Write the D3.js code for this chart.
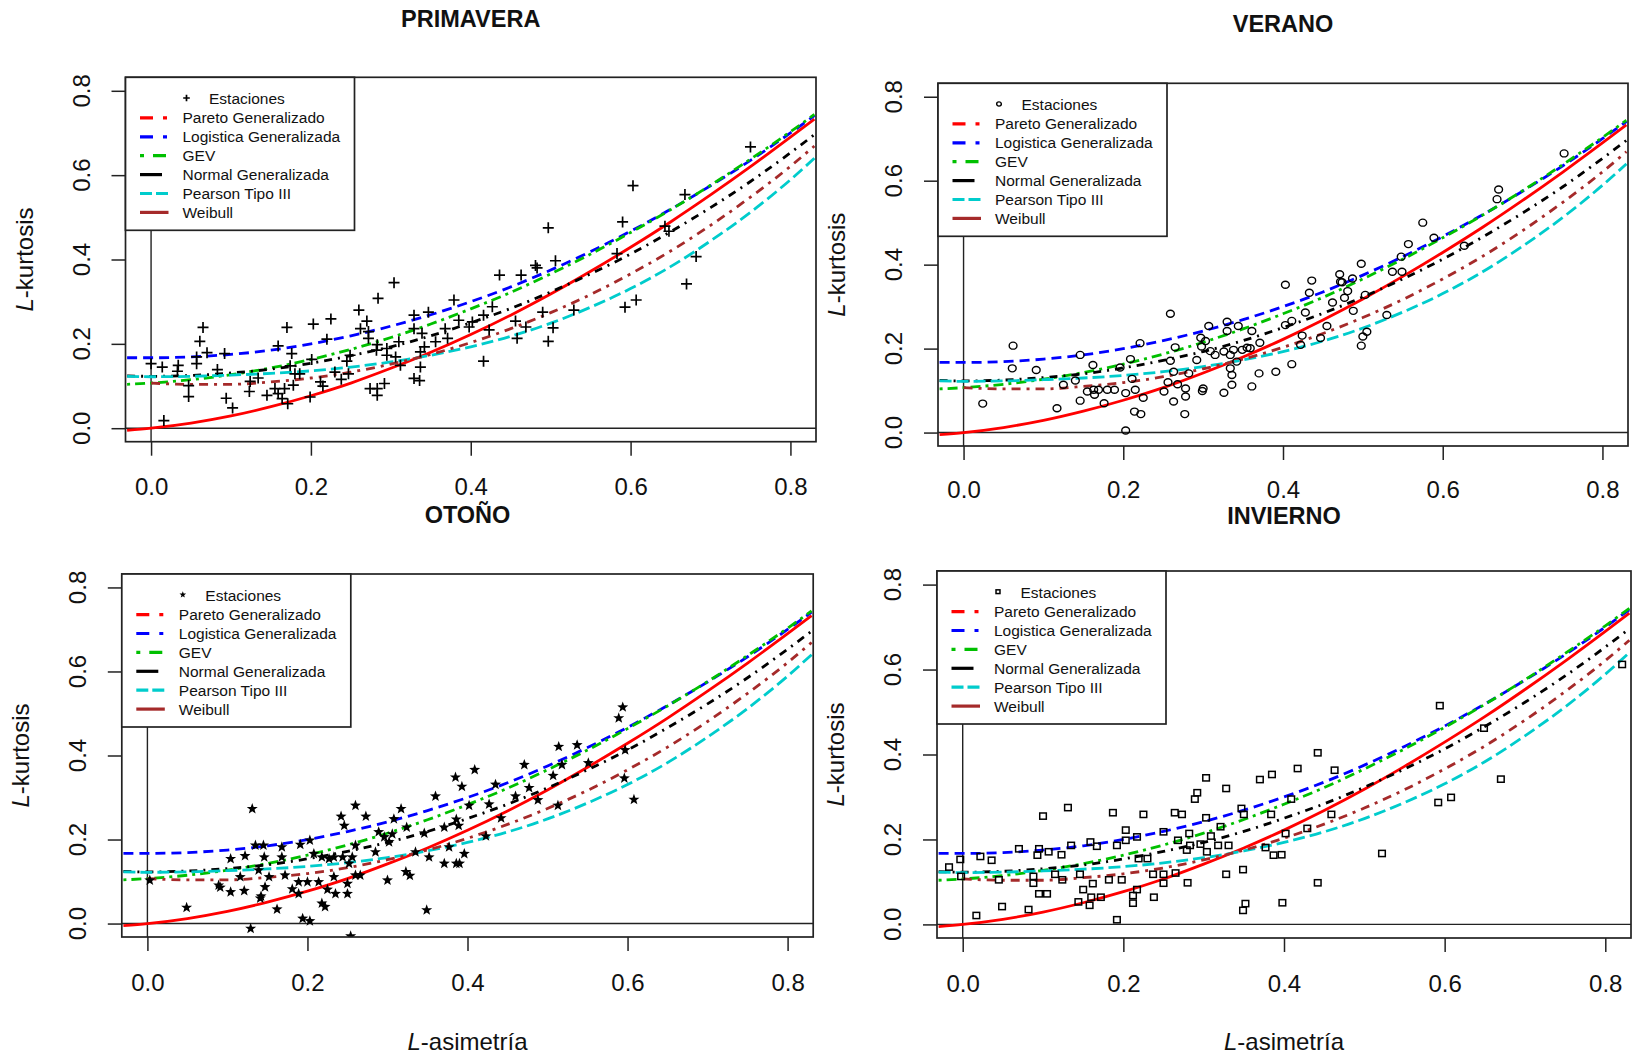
<!DOCTYPE html>
<html><head><meta charset="utf-8">
<script src="https://cdn.jsdelivr.net/npm/d3@7"></script>
<style>
body{margin:0;background:#fff}
svg{display:block}
text{font-family:"Liberation Sans",Arial,Helvetica,sans-serif;fill:#111}
</style>
</head><body>
<svg id="chart" width="1632" height="1054"></svg>
<script>
// ---------- DATA ----------
const seasonTitles = ["PRIMAVERA", "VERANO", "OTOÑO", "INVIERNO"];
const tickValues = [0, 0.2, 0.4, 0.6, 0.8];
const tickLabels = ["0.0", "0.2", "0.4", "0.6", "0.8"];
const legendLabels = ["Estaciones", "Pareto Generalizado", "Logistica Generalizada", "GEV",
  "Normal Generalizada", "Pearson Tipo III", "Weibull"];

// theoretical curves (L-asimetría grid -> L-kurtosis)
const tau3Grid      = [-0.03, 0, 0.05, 0.10, 0.15, 0.20, 0.25, 0.30, 0.35, 0.40, 0.45, 0.50, 0.55, 0.60, 0.65, 0.70, 0.75, 0.80, 0.83];
const tau4Pareto    = [-0.005, 0, 0.012, 0.029, 0.051, 0.077, 0.107, 0.142, 0.180, 0.222, 0.268, 0.318, 0.372, 0.429, 0.489, 0.553, 0.620, 0.690, 0.733];
const tau4Logistica = [0.167, 0.167, 0.169, 0.175, 0.185, 0.200, 0.219, 0.242, 0.269, 0.300, 0.335, 0.375, 0.419, 0.467, 0.519, 0.575, 0.635, 0.700, 0.741];
const tau4GEV       = [0.104, 0.107, 0.115, 0.127, 0.143, 0.163, 0.187, 0.215, 0.247, 0.283, 0.322, 0.366, 0.413, 0.464, 0.518, 0.576, 0.638, 0.703, 0.744];
const tau4Normal    = [0.124, 0.123, 0.125, 0.131, 0.140, 0.154, 0.172, 0.193, 0.219, 0.250, 0.284, 0.323, 0.366, 0.413, 0.466, 0.523, 0.585, 0.653, 0.696];
const tau4Pearson   = [0.123, 0.122, 0.123, 0.126, 0.130, 0.136, 0.145, 0.157, 0.173, 0.193, 0.218, 0.249, 0.287, 0.331, 0.383, 0.444, 0.512, 0.589, 0.640];
const tau4Weibull   = [null, 0.107, 0.104, 0.104, 0.110, 0.119, 0.133, 0.152, 0.175, 0.203, 0.236, 0.274, 0.317, 0.366, 0.420, 0.481, 0.548, 0.621, 0.669];

// stations [L-asimetría, L-kurtosis]
const primavera = [[0.497,0.475],[0.506,0.397],[0.481,0.386],[0.483,0.380],[0.436,0.363],[0.463,0.363],[0.304,0.345],[0.284,0.308],[0.379,0.304],[0.260,0.280],[0.427,0.288],[0.329,0.268],[0.347,0.275],[0.270,0.254],[0.203,0.247],[0.225,0.259],[0.170,0.239],[0.065,0.239],[0.061,0.206],[0.070,0.179],[0.057,0.169],[0.057,0.153],[0.092,0.177],[0.000,0.153],[0.014,0.145],[0.034,0.149],[0.033,0.135],[0.047,0.101],[0.047,0.075],[0.083,0.139],[0.016,0.018],[0.094,0.071],[0.102,0.048],[0.159,0.195],[0.176,0.177],[0.174,0.148],[0.220,0.211],[0.201,0.163],[0.249,0.173],[0.245,0.159],[0.262,0.236],[0.272,0.229],[0.272,0.213],[0.283,0.198],[0.282,0.185],[0.295,0.189],[0.295,0.173],[0.306,0.169],[0.310,0.205],[0.329,0.236],[0.339,0.225],[0.342,0.193],[0.337,0.181],[0.337,0.145],[0.329,0.118],[0.336,0.113],[0.356,0.205],[0.371,0.213],[0.368,0.236],[0.385,0.256],[0.402,0.252],[0.398,0.240],[0.416,0.268],[0.423,0.233],[0.416,0.159],[0.456,0.254],[0.458,0.213],[0.469,0.240],[0.490,0.275],[0.503,0.238],[0.497,0.206],[0.124,0.111],[0.123,0.087],[0.134,0.119],[0.145,0.078],[0.155,0.094],[0.159,0.082],[0.167,0.094],[0.164,0.070],[0.171,0.058],[0.178,0.102],[0.180,0.129],[0.186,0.129],[0.199,0.074],[0.212,0.110],[0.215,0.100],[0.230,0.133],[0.238,0.116],[0.247,0.129],[0.274,0.094],[0.283,0.094],[0.283,0.078],[0.292,0.106],[0.312,0.149],[0.750,0.667],[0.603,0.575],[0.668,0.554],[0.590,0.489],[0.643,0.479],[0.648,0.467],[0.583,0.414],[0.682,0.407],[0.670,0.342],[0.607,0.304],[0.593,0.287],[0.529,0.280]];

const verano = [[0.498,0.402],[0.403,0.352],[0.436,0.362],[0.433,0.333],[0.471,0.377],[0.472,0.359],[0.487,0.367],[0.477,0.321],[0.481,0.337],[0.462,0.310],[0.488,0.290],[0.503,0.328],[0.505,0.240],[0.500,0.229],[0.498,0.207],[0.259,0.283],[0.428,0.286],[0.403,0.256],[0.411,0.266],[0.455,0.254],[0.424,0.231],[0.422,0.209],[0.411,0.163],[0.391,0.145],[0.447,0.225],[0.307,0.254],[0.330,0.264],[0.330,0.242],[0.344,0.254],[0.361,0.242],[0.371,0.214],[0.359,0.201],[0.370,0.141],[0.361,0.110],[0.221,0.213],[0.265,0.203],[0.209,0.175],[0.297,0.226],[0.303,0.218],[0.298,0.205],[0.292,0.173],[0.309,0.194],[0.326,0.193],[0.315,0.185],[0.334,0.185],[0.338,0.197],[0.349,0.197],[0.355,0.202],[0.342,0.169],[0.334,0.153],[0.336,0.137],[0.336,0.114],[0.326,0.095],[0.300,0.105],[0.299,0.099],[0.278,0.086],[0.278,0.105],[0.268,0.115],[0.263,0.145],[0.259,0.171],[0.256,0.120],[0.251,0.098],[0.263,0.074],[0.277,0.044],[0.282,0.141],[0.196,0.155],[0.203,0.094],[0.211,0.128],[0.215,0.102],[0.225,0.083],[0.214,0.050],[0.222,0.044],[0.203,0.005],[0.162,0.161],[0.146,0.185],[0.155,0.098],[0.164,0.090],[0.163,0.102],[0.169,0.102],[0.180,0.102],[0.189,0.102],[0.176,0.070],[0.146,0.076],[0.140,0.124],[0.125,0.114],[0.117,0.058],[0.091,0.149],[0.061,0.153],[0.062,0.207],[0.024,0.069],[0.752,0.665],[0.670,0.579],[0.668,0.556],[0.575,0.500],[0.589,0.464],[0.557,0.449],[0.627,0.445],[0.548,0.419],[0.537,0.383],[0.549,0.383],[0.474,0.358],[0.530,0.280]];

const otono = [[0.594,0.515],[0.589,0.489],[0.514,0.421],[0.537,0.425],[0.409,0.366],[0.385,0.348],[0.393,0.326],[0.471,0.378],[0.507,0.352],[0.435,0.331],[0.477,0.323],[0.551,0.382],[0.518,0.378],[0.596,0.346],[0.608,0.295],[0.597,0.413],[0.360,0.303],[0.260,0.281],[0.131,0.273],[0.317,0.273],[0.273,0.255],[0.242,0.255],[0.246,0.233],[0.308,0.249],[0.324,0.229],[0.386,0.248],[0.389,0.233],[0.442,0.251],[0.402,0.281],[0.427,0.284],[0.460,0.303],[0.488,0.294],[0.423,0.208],[0.513,0.281],[0.371,0.229],[0.377,0.182],[0.396,0.166],[0.386,0.143],[0.390,0.143],[0.371,0.143],[0.352,0.158],[0.335,0.170],[0.346,0.215],[0.323,0.123],[0.328,0.114],[0.349,0.032],[0.300,0.103],[0.306,0.213],[0.296,0.206],[0.302,0.194],[0.289,0.218],[0.285,0.170],[0.260,0.186],[0.256,0.158],[0.266,0.115],[0.260,0.115],[0.252,0.143],[0.244,0.158],[0.233,0.158],[0.227,0.154],[0.218,0.158],[0.208,0.166],[0.203,0.198],[0.191,0.188],[0.168,0.182],[0.168,0.158],[0.145,0.186],[0.135,0.186],[0.122,0.161],[0.104,0.154],[0.146,0.158],[0.139,0.127],[0.152,0.111],[0.172,0.115],[0.189,0.099],[0.200,0.099],[0.214,0.099],[0.233,0.111],[0.250,0.095],[0.235,0.071],[0.250,0.071],[0.225,0.081],[0.181,0.082],[0.189,0.071],[0.147,0.087],[0.142,0.065],[0.141,0.060],[0.121,0.078],[0.104,0.075],[0.089,0.091],[0.091,0.086],[0.218,0.048],[0.222,0.040],[0.162,0.034],[0.194,0.012],[0.203,0.006],[0.129,-0.012],[0.254,-0.030],[0.049,0.038],[0.003,0.103],[0.116,0.111]];

const invierno = [[0.442,0.404],[0.417,0.367],[0.463,0.363],[0.385,0.353],[0.370,0.341],[0.303,0.345],[0.328,0.320],[0.292,0.310],[0.289,0.295],[0.131,0.275],[0.100,0.255],[0.187,0.263],[0.225,0.259],[0.264,0.263],[0.273,0.259],[0.347,0.273],[0.350,0.259],[0.384,0.259],[0.409,0.295],[0.459,0.259],[0.303,0.251],[0.321,0.230],[0.203,0.222],[0.203,0.198],[0.217,0.206],[0.250,0.218],[0.282,0.214],[0.268,0.198],[0.283,0.186],[0.296,0.189],[0.318,0.186],[0.331,0.186],[0.309,0.208],[0.304,0.171],[0.279,0.175],[0.192,0.186],[0.167,0.184],[0.159,0.194],[0.135,0.186],[0.107,0.171],[0.095,0.178],[0.093,0.163],[0.123,0.164],[0.070,0.178],[0.036,0.151],[0.022,0.160],[-0.003,0.153],[-0.017,0.135],[-0.002,0.113],[0.045,0.105],[0.088,0.113],[0.088,0.097],[0.115,0.118],[0.124,0.105],[0.146,0.118],[0.150,0.082],[0.162,0.096],[0.182,0.105],[0.198,0.105],[0.219,0.155],[0.230,0.155],[0.237,0.118],[0.250,0.118],[0.250,0.097],[0.265,0.121],[0.280,0.098],[0.238,0.064],[0.212,0.068],[0.212,0.050],[0.217,0.082],[0.160,0.064],[0.158,0.045],[0.172,0.064],[0.144,0.053],[0.095,0.072],[0.105,0.072],[0.049,0.042],[0.082,0.035],[0.017,0.021],[0.192,0.011],[0.328,0.118],[0.349,0.129],[0.387,0.163],[0.397,0.164],[0.377,0.181],[0.402,0.214],[0.429,0.226],[0.442,0.098],[0.398,0.051],[0.352,0.049],[0.349,0.033],[0.594,0.515],[0.821,0.612],[0.670,0.342],[0.592,0.287],[0.608,0.299],[0.522,0.167],[0.649,0.462]];

// ---------- STYLE / LAYOUT ----------
const curves = [
  {vals: tau4Pareto,    color: "#FF0000", dash: null,        legDash: "13,10,4,200"},
  {vals: tau4Logistica, color: "#0000FF", dash: "10,6",      legDash: "13,10,4,200"},
  {vals: tau4GEV,       color: "#00C000", dash: "3,5,10,5",  legDash: "4,9,13,200"},
  {vals: tau4Normal,    color: "#000000", dash: "8,6,2,6",   legDash: "22,200"},
  {vals: tau4Pearson,   color: "#00CCCC", dash: "12,5",      legDash: "12,4,12,200"},
  {vals: tau4Weibull,   color: "#A52A2A", dash: "9,6,3,6",   legDash: null}
];
const panels = [
  {pts: primavera, marker: "plus",   box: [125.5, 77.3, 690.5, 364.4], titleY: 19,  xlab: false, tickPad: 22.5},
  {pts: verano,    marker: "circle", box: [938, 83.3, 690, 362.7],     titleY: 24,  xlab: false, tickPad: 20.5},
  {pts: otono,     marker: "star",   box: [121.8, 574, 691.4, 363],    titleY: 515, xlab: true,  tickPad: 22.5},
  {pts: invierno,  marker: "square", box: [937, 571, 694, 367],        titleY: 516, xlab: true,  tickPad: 22.5}
];
const dom = [-0.032, 0.832];
const svg = d3.select("#chart");
const starPath = (R, r) => {
  let p = "";
  for (let k = 0; k < 10; k++) {
    const a = -Math.PI / 2 + k * Math.PI / 5, rr = k % 2 ? r : R;
    p += (k ? "L" : "M") + (rr * Math.cos(a)).toFixed(2) + "," + (rr * Math.sin(a)).toFixed(2);
  }
  return p + "Z";
};
function drawMarker(sel, type, s) {
  if (type === "plus") sel.append("path").attr("d", `M${-5.5*s},0H${5.5*s}M0,${-5.5*s}V${5.5*s}`).attr("stroke", "#000").attr("stroke-width", 1.7).attr("fill", "none");
  else if (type === "circle") sel.append("ellipse").attr("rx", 3.9*s).attr("ry", 3.5*s).attr("fill", "none").attr("stroke", "#000").attr("stroke-width", 1.4);
  else if (type === "square") sel.append("rect").attr("x", -3.3*s).attr("y", -3.1*s).attr("width", 6.6*s).attr("height", 6.2*s).attr("fill", "none").attr("stroke", "#000").attr("stroke-width", 1.5);
  else if (type === "star") sel.append("path").attr("d", starPath(5.8*s, 2.4*s)).attr("fill", "#000");
}

panels.forEach((P, i) => {
  const [bx, by, bw, bh] = P.box;
  const x = d3.scaleLinear().domain(dom).range([bx, bx + bw]);
  const y = d3.scaleLinear().domain(dom).range([by + bh, by]);
  const g = svg.append("g");
  const clipId = "clip" + i;
  svg.append("clipPath").attr("id", clipId).append("rect").attr("x", bx).attr("y", by).attr("width", bw).attr("height", bh);
  const plot = g.append("g").attr("clip-path", `url(#${clipId})`);

  // reference lines h=0, v=0
  plot.append("line").attr("x1", bx).attr("x2", bx + bw).attr("y1", y(0)).attr("y2", y(0)).attr("stroke", "#222").attr("stroke-width", 1.4);
  plot.append("line").attr("x1", x(0)).attr("x2", x(0)).attr("y1", by).attr("y2", by + bh).attr("stroke", "#222").attr("stroke-width", 1.4);

  // theoretical curves
  const line = d3.line().defined(d => d[1] != null).x(d => x(d[0])).y(d => y(d[1])).curve(d3.curveMonotoneX);
  curves.forEach(c => {
    plot.append("path").datum(d3.zip(tau3Grid, c.vals)).attr("d", line)
      .attr("fill", "none").attr("stroke", c.color).attr("stroke-width", 2.8)
      .attr("stroke-dasharray", c.dash);
  });

  // stations
  plot.selectAll("g.pt").data(P.pts).join("g").attr("class", "pt")
    .attr("transform", d => `translate(${x(d[0])},${y(d[1])})`)
    .each(function () { drawMarker(d3.select(this), P.marker, 1); });

  // box
  g.append("rect").attr("x", bx).attr("y", by).attr("width", bw).attr("height", bh).attr("fill", "none").attr("stroke", "#222").attr("stroke-width", 1.7);

  // axes
  const xa = d3.axisBottom(x).tickValues(tickValues).tickFormat((d, k) => tickLabels[k]).tickSize(14).tickSizeOuter(0).tickPadding(P.tickPad);
  const gx = g.append("g").attr("transform", `translate(0,${by + bh})`).call(xa);
  gx.select(".domain").remove();
  gx.selectAll("line").attr("stroke", "#222").attr("stroke-width", 1.5);
  gx.selectAll("text").attr("font-size", 24).attr("fill", "#111").attr("font-family", '"Liberation Sans",Arial,sans-serif');

  const ya = d3.axisLeft(y).tickValues(tickValues).tickFormat("").tickSize(14).tickSizeOuter(0);
  const gy = g.append("g").attr("transform", `translate(${bx},0)`).call(ya);
  gy.select(".domain").remove();
  gy.selectAll("line").attr("stroke", "#222").attr("stroke-width", 1.5);
  g.selectAll("text.ytl").data(tickValues).join("text").attr("class", "ytl")
    .attr("transform", d => `translate(${bx - 44},${y(d)}) rotate(-90)`)
    .attr("text-anchor", "middle").attr("dy", "0.35em").attr("font-size", 24)
    .text((d, k) => tickLabels[k]);

  // titles and axis labels
  g.append("text").attr("x", bx + bw / 2).attr("y", P.titleY).attr("dy", "0.35em").attr("text-anchor", "middle")
    .attr("font-size", 23.5).attr("font-weight", "bold").text(seasonTitles[i]);
  const yl = g.append("text").attr("transform", `translate(${bx - 101},${by + bh / 2}) rotate(-90)`)
    .attr("text-anchor", "middle").attr("dy", "0.35em").attr("font-size", 24);
  yl.append("tspan").attr("font-style", "italic").text("L");
  yl.append("tspan").text("-kurtosis");
  if (P.xlab) {
    const xl = g.append("text").attr("x", bx + bw / 2).attr("y", 1041.6).attr("dy", "0.35em")
      .attr("text-anchor", "middle").attr("font-size", 24);
    xl.append("tspan").attr("font-style", "italic").text("L");
    xl.append("tspan").text("-asimetría");
  }

  // legend
  const lg = g.append("g").attr("transform", `translate(${bx},${by})`);
  lg.append("rect").attr("width", 229).attr("height", 153).attr("fill", "#fff").attr("stroke", "#222").attr("stroke-width", 1.7);
  legendLabels.forEach((lab, k) => {
    const ry = 21.7 + k * 18.9;
    if (k === 0) {
      const m = lg.append("g").attr("transform", `translate(61,${ry - 1})`);
      drawMarker(m, P.marker, 0.6);
      lg.append("text").attr("x", 83.5).attr("y", ry).attr("dy", "0.35em").attr("font-size", 15.5).text(lab);
    } else {
      const c = curves[k - 1];
      lg.append("line").attr("x1", 14.5).attr("x2", 43).attr("y1", ry).attr("y2", ry)
        .attr("stroke", c.color).attr("stroke-width", 3.2).attr("stroke-dasharray", c.legDash);
      lg.append("text").attr("x", 57).attr("y", ry).attr("dy", "0.35em").attr("font-size", 15.5).text(lab);
    }
  });
});
</script>
</body></html>
